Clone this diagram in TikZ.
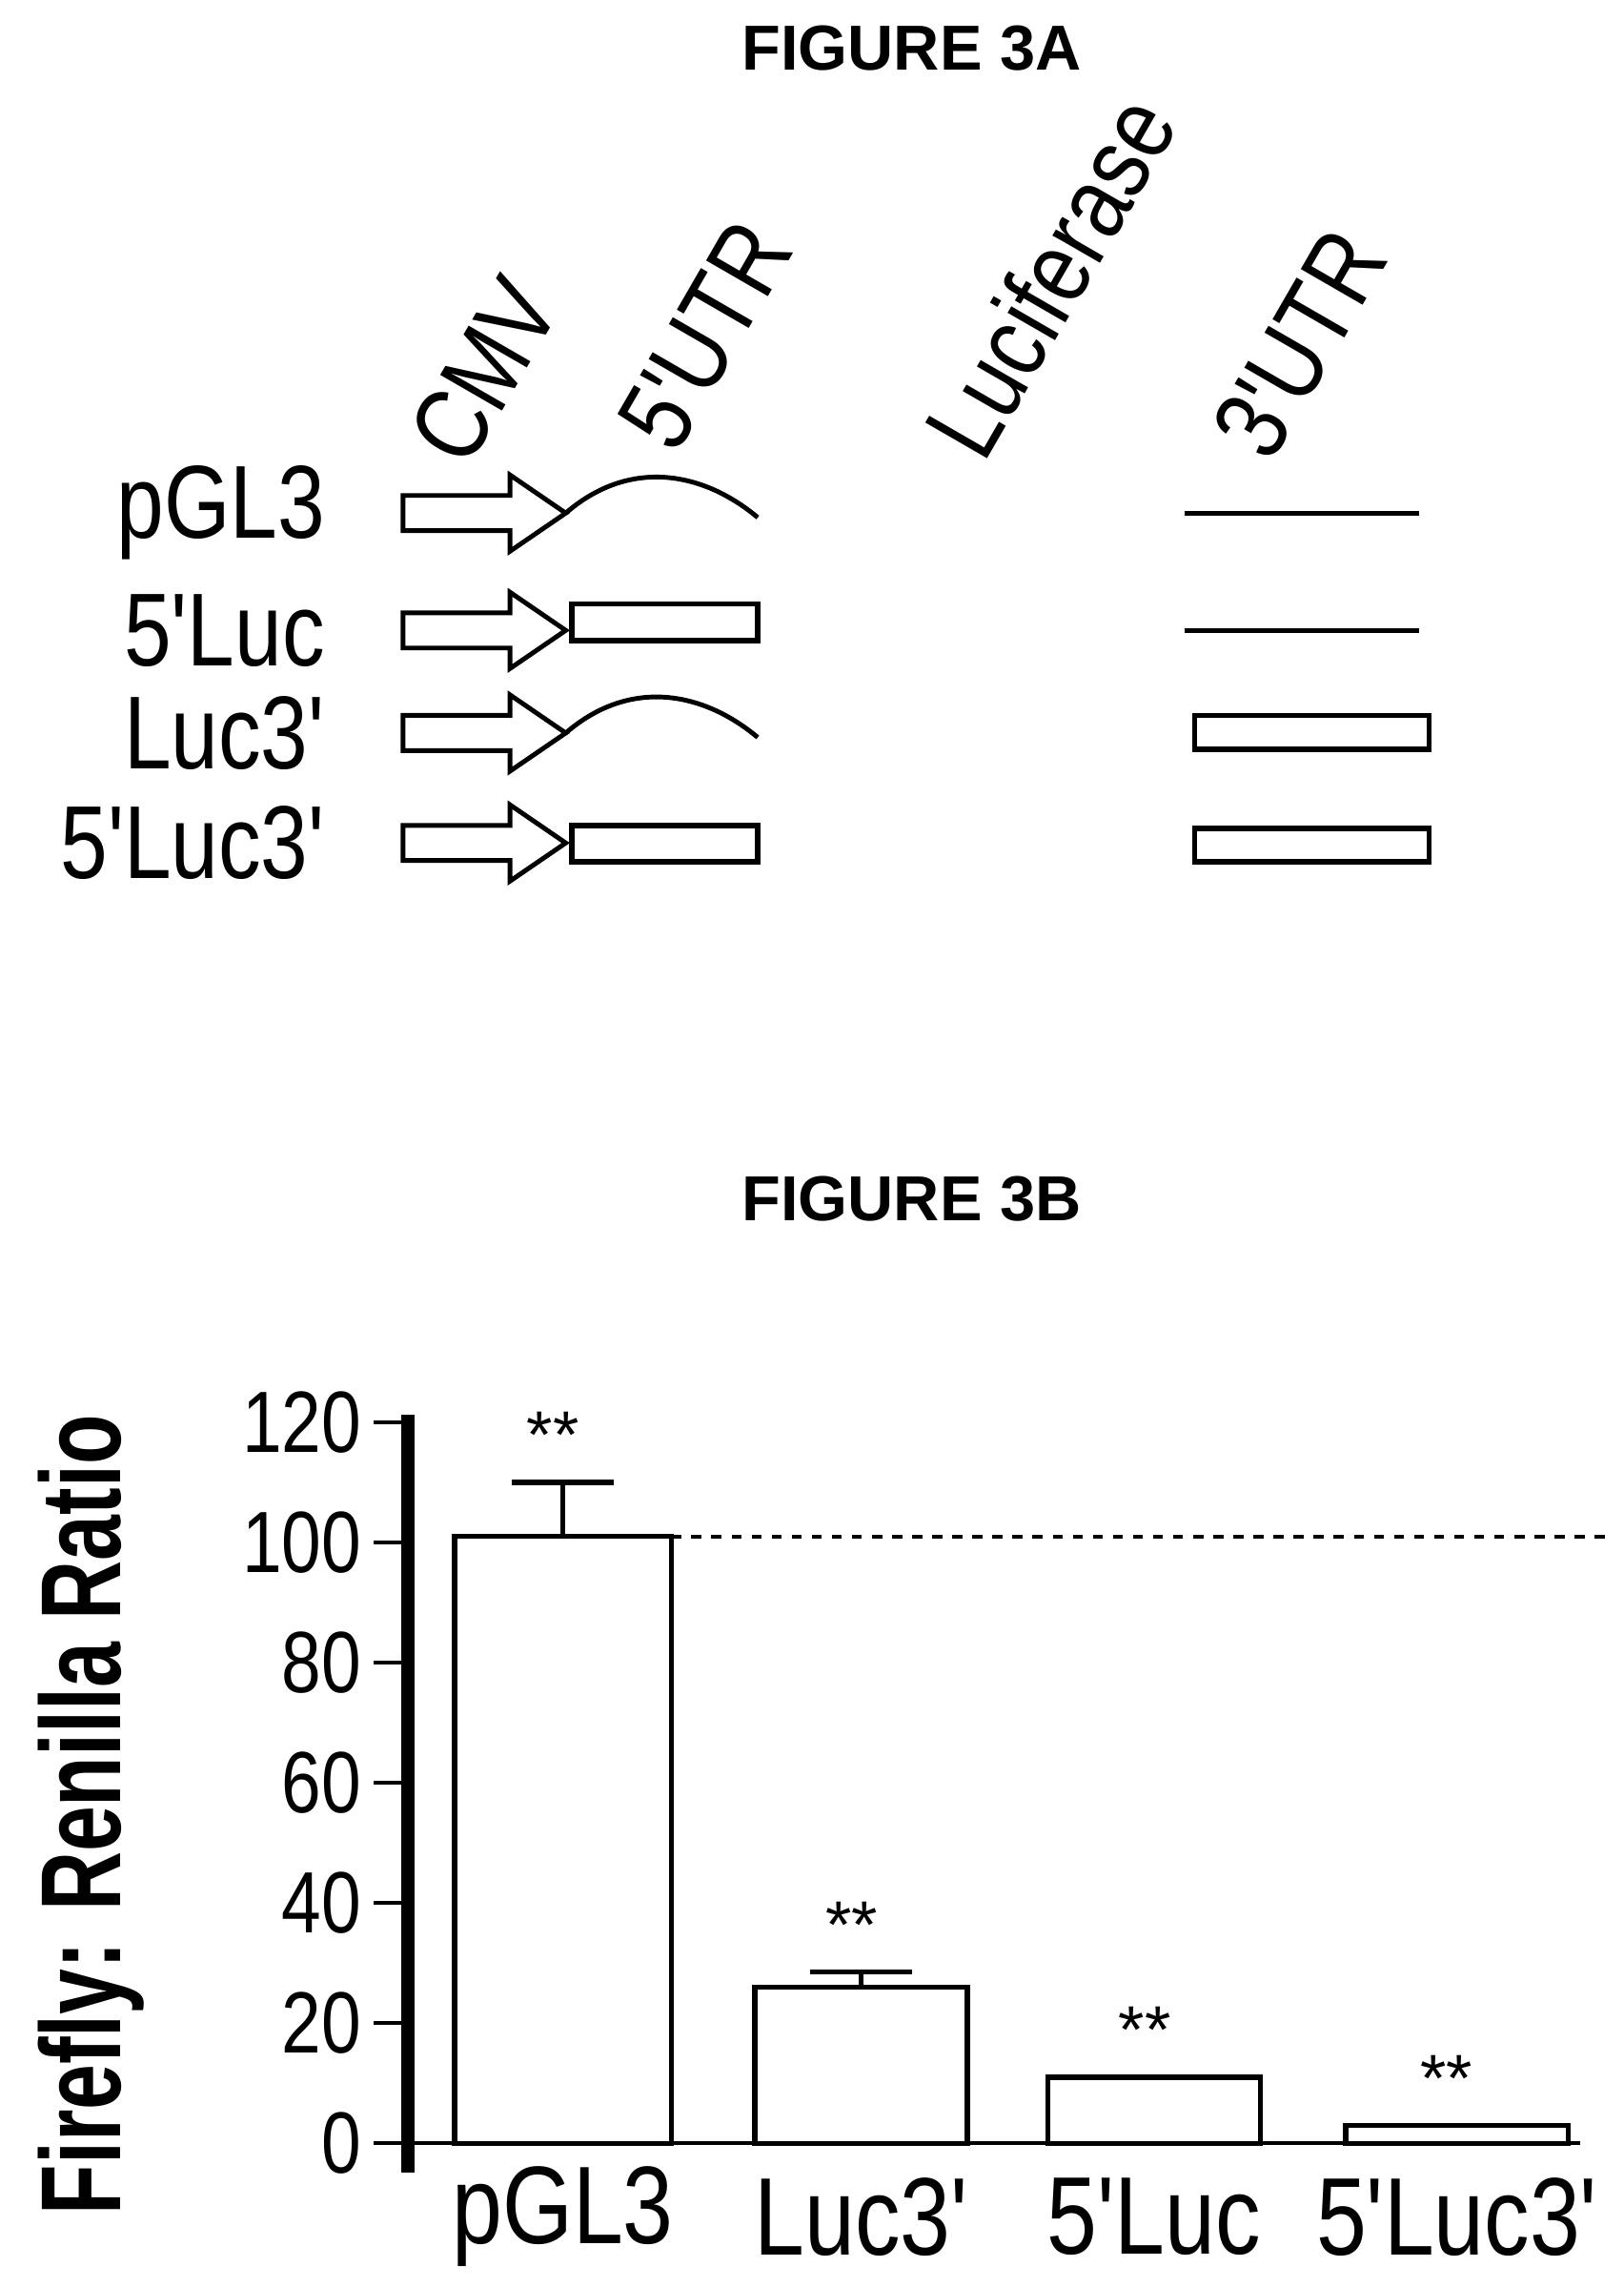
\documentclass[tikz,border=0pt]{standalone}
\usepackage{fontspec}
\setmainfont{Liberation Sans}
\usetikzlibrary{positioning}
\newcommand{\narrow}[1]{\scalebox{0.82}[1]{#1}}
\newcommand{\pr}{\textquotesingle}
\tikzset{title node/.style={font=\fontsize{19}{22}\selectfont\bfseries},
    big label/.style={font=\fontsize{31}{34}\selectfont, inner sep=0pt},
    tick label/.style={font=\fontsize{26}{30}\selectfont, anchor=east, inner sep=0pt},
    cmv arrow/.style={draw, line width=1.4pt, fill=white},
    utr box/.style={draw, line width=1.6pt},
    bar/.style={draw, line width=1.6pt},
    star label/.style={font=\fontsize{20}{22}\selectfont}}
\begin{document}
\begin{tikzpicture}[x=0.01539cm, y=-0.01539cm]
\useasboundingbox (0,0) rectangle (1108,1560);
% figure 3A
\node[title node] (t3a) at (622,33) {FIGURE 3A};
\node[big label, rotate=60, anchor=south west] (cmv) at (320,322) {\narrow{CMV}};
\node[big label, rotate=60, anchor=south west] (utr5) at (462,312) {\narrow{5\pr UTR}};
\node[big label, rotate=60, anchor=south west] (luc) at (672,318) {\narrow{Luciferase}};
\node[big label, rotate=60, anchor=south west] (utr3) at (868,318) {\narrow{3\pr UTR}};

\foreach \y/\name/\lab in {350/pgl/pGL3, 430/fluc/5\pr Luc, 500/lucf/Luc3\pr, 575/flucf/5\pr Luc3\pr} {
  \node[big label, anchor=east] (\name) at (222,\y) {\narrow{\lab}};
  \coordinate (a\name) at (386,\y);
  \draw[cmv arrow] (275,\y-12) -- (348,\y-12) -- (348,\y-26) -- (a\name)
     -- (348,\y+26) -- (348,\y+12) -- (275,\y+12) -- cycle;
}
% 5'UTR
\draw[line width=1.4pt] (apgl) .. controls (430,312) and (480,322) .. (517,353);
\draw[line width=1.4pt] (alucf) .. controls (430,462) and (480,472) .. (517,503);
\draw[utr box] (390,412) rectangle (517,437);
\draw[utr box] (390,563) rectangle (517,588);
% 3'UTR
\draw[line width=1.4pt] (808,350) -- (968,350);
\draw[line width=1.4pt] (808,430) -- (968,430);
\draw[utr box] (815,488) rectangle (975,511);
\draw[utr box] (815,565) rectangle (975,588);

% figure 3B
\node[title node] (t3b) at (622,818) {FIGURE 3B};
\draw[line width=4pt] (278,965) -- (278,1482);
\draw[line width=1.2pt] (278,1462) -- (1078,1462);
\foreach \v in {0,20,...,120} {
  \draw[line width=1.2pt] (255,1462-\v*4.1) -- (278,1462-\v*4.1);
  \node[tick label] at (247,1462-\v*4.1) {\narrow{\v}};
}
\node[font=\fontsize{34}{40}\selectfont\bfseries, rotate=90] (ylab) at (62,1238) {\scalebox{0.72}[1]{Firefly: Renilla Ratio}};
\draw[dashed, line width=1.2pt] (458,1048) -- (1100,1048);
\foreach \x/\w/\v/\e/\name/\lab in {310/148/101/110/bp/pGL3, 515/145/26/28.5/bl/Luc3\pr, 715/145/11/11/bf/5\pr Luc, 918/152/3/3/bff/5\pr Luc3\pr} {
  \draw[bar] (\x,1462) rectangle (\x+\w,1462-\v*4.1);
  \draw[line width=1.6pt] (\x+\w/2,1462-\v*4.1) -- (\x+\w/2,1462-\e*4.1);
  \draw[line width=1.6pt] (\x+\w/2-35,1462-\e*4.1) -- (\x+\w/2+35,1462-\e*4.1);
  \node[star label] (s\name) at (\x+\w/2-\w*0.1+8,1462-\e*4.1-32) {**};
  \node[font=\fontsize{33}{36}\selectfont] (\name) at (\x+\w/2,1512) {\narrow{\lab}};
}
\end{tikzpicture}
\end{document}
